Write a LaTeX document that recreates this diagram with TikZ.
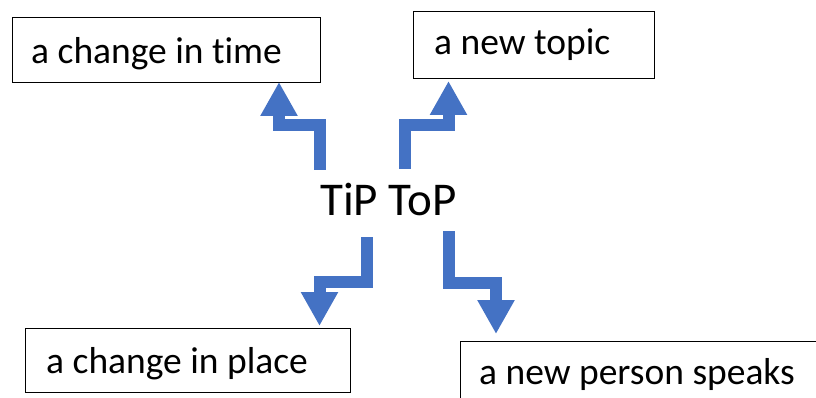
\documentclass[tikz,border=0pt]{standalone}
\usepackage{fontspec}
\setmainfont{Carlito}[Ligatures={NoCommon,NoContextual}]
\usetikzlibrary{arrows.meta}
\definecolor{accentblue}{HTML}{4472C4}
\begin{document}
\begin{tikzpicture}[x=1pt,y=-1pt,
  box/.style={draw=black,line width=1pt,inner sep=0pt,anchor=north west},
  boxtext/.style={anchor=base west,inner sep=0pt,font=\fontsize{37.5}{40}\selectfont},
  bentarrow/.style={draw=accentblue,line width=12pt,line join=miter,line cap=butt,
    -{Triangle[width=35pt,length=34pt]}}]
\useasboundingbox (0,0) rectangle (816,398);
\clip (0,0) rectangle (816,398);

% boxes
\node[box,minimum width=308pt,minimum height=65pt] (b1) at (12,17) {};
\node[box,minimum width=241pt,minimum height=67pt] (b2) at (413,11) {};
\node[box,minimum width=325pt,minimum height=64pt] (b3) at (25,328) {};
\node[box,minimum width=380pt,minimum height=80pt] (b4) at (460,341) {};

% labels
\node[boxtext] (l1) at (31,64) {a change in time};
\node[boxtext] (l2) at (434,55) {a new topic};
\node[boxtext] (l3) at (46,373) {a change in place};
\node[boxtext] (l4) at (479,384) {a new person speaks};

% centre title
\node[anchor=base west,inner sep=0pt,font=\fontsize{47}{50}\selectfont] (tt) at (320,215) {TiP ToP};

% arrow starts, bends and tips
\coordinate (s1) at (320,170);
\coordinate (k1) at (279,125);
\coordinate (t1) at (279,82);

\coordinate (s2) at (404.5,169);
\coordinate (k2) at (448.5,125);
\coordinate (t2) at (448.5,81);

\coordinate (s3) at (367,237);
\coordinate (k3) at (319.5,281.5);
\coordinate (t3) at (319.5,326);

\coordinate (s4) at (449,231);
\coordinate (k4) at (496,283);
\coordinate (t4) at (496,334);

\draw[bentarrow] (s1) |- (k1) -- (t1);
\draw[bentarrow] (s2) |- (k2) -- (t2);
\draw[bentarrow] (s3) |- (k3) -- (t3);
\draw[bentarrow] (s4) |- (k4) -- (t4);
\end{tikzpicture}
\end{document}
